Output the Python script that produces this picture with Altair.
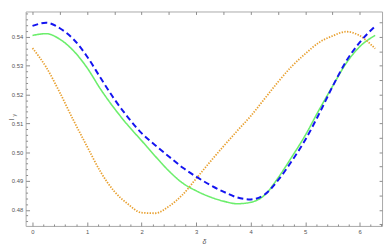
import altair as alt
import pandas as pd

# ---- data ----
delta = [0.0, 0.25, 0.5, 0.75, 1.0, 1.25, 1.5, 1.75, 2.0, 2.25, 2.5, 2.75, 3.0,
         3.25, 3.5, 3.75, 4.0, 4.25, 4.5, 4.75, 5.0, 5.25, 5.5, 5.75, 6.0, 6.283]
blue = [0.5438, 0.5449, 0.5430, 0.5392, 0.5332, 0.5257, 0.5184, 0.5121, 0.5066,
        0.5024, 0.4985, 0.4947, 0.4915, 0.4887, 0.4863, 0.4843, 0.4836, 0.4852,
        0.4902, 0.4968, 0.5042, 0.5131, 0.5227, 0.5315, 0.5381, 0.5437]
green = [0.5405, 0.5411, 0.5392, 0.5352, 0.5293, 0.5218, 0.5152, 0.5093, 0.5040,
         0.4986, 0.4935, 0.4893, 0.4866, 0.4845, 0.4830, 0.4821, 0.4826, 0.4850,
         0.4910, 0.4982, 0.5058, 0.5145, 0.5228, 0.5308, 0.5366, 0.5405]
orange = [0.5361, 0.5295, 0.5207, 0.5111, 0.5020, 0.4931, 0.4864, 0.4820, 0.4790,
          0.4788, 0.4812, 0.4852, 0.4908, 0.4965, 0.5020, 0.5073, 0.5125, 0.5184,
          0.5243, 0.5297, 0.5341, 0.5380, 0.5403, 0.5418, 0.5404, 0.5359]

x_major = [0, 1, 2, 3, 4, 5, 6]
x_minor = [0.2, 0.4, 0.6, 0.8, 1.2, 1.4, 1.6, 1.8, 2.2, 2.4, 2.6, 2.8, 3.2, 3.4,
           3.6, 3.8, 4.2, 4.4, 4.6, 4.8, 5.2, 5.4, 5.6, 5.8, 6.2, 6.4]
x_top = [0, 0.5, 1, 1.5, 2, 2.5, 3, 3.5, 4, 4.5, 5, 5.5, 6]
y_major = [0.48, 0.49, 0.50, 0.51, 0.52, 0.53, 0.54]
y_minor = [0.476, 0.478, 0.482, 0.484, 0.486, 0.488, 0.492, 0.494, 0.496, 0.498,
           0.502, 0.504, 0.506, 0.508, 0.512, 0.514, 0.516, 0.518, 0.522, 0.524,
           0.526, 0.528, 0.532, 0.534, 0.536, 0.538, 0.542, 0.544, 0.546, 0.548]
y_right = [0.475, 0.48, 0.485, 0.49, 0.495, 0.50, 0.505, 0.51, 0.515, 0.52,
           0.525, 0.53, 0.535, 0.54, 0.545]

df = pd.DataFrame({
    "delta": delta * 3,
    "value": blue + green + orange,
    "series": ["blue"] * len(delta) + ["green"] * len(delta) + ["orange"] * len(delta),
})

XS = alt.Scale(domain=[-0.126, 6.409], nice=False, zero=False)
YS = alt.Scale(domain=[0.4744, 0.5488], nice=False, zero=False)
FONT = "Liberation Sans"
TICK = "#8a8a8a"
LAB = "#555555"

base = alt.Chart(df)

def line(name, color, dash, width, xaxis, yaxis):
    return base.transform_filter(alt.datum.series == name).mark_line(
        interpolate="monotone", color=color, strokeDash=dash, strokeWidth=width
    ).encode(
        x=alt.X("delta:Q", scale=XS, axis=xaxis),
        y=alt.Y("value:Q", scale=YS, axis=yaxis),
    )

x_main = alt.Axis(values=x_major, orient="bottom", offset=-4, tickSize=4, domain=False,
                  grid=False, format="d", labelFont=FONT, labelFontSize=6, labelColor=LAB,
                  tickColor=TICK, labelPadding=3, title="δ", titleFont=FONT,
                  titleFontSize=7, titleFontStyle="italic", titleFontWeight="normal",
                  titleColor=LAB, titlePadding=3)
y_main = alt.Axis(values=y_major, orient="left", offset=-4, tickSize=4, domain=False,
                  grid=False, format=".2f", labelFont=FONT, labelFontSize=6,
                  labelColor=LAB, tickColor=TICK, labelPadding=3, title=None)

l_green = line("green", "#6cee6c", [1, 0], 1.6, x_main, y_main)
l_orange = line("orange", "#e8a030", [1.4, 1.4], 1.8, None, None)
l_blue = line("blue", "#1414f0", [6, 3.5], 2, None, None)

def ticks_layer(xv, xo, xs, yv, yo, ys):
    return base.mark_line(opacity=0).encode(
        x=alt.X("delta:Q", scale=XS, axis=alt.Axis(values=xv, orient=xo, offset=-xs,
                tickSize=xs, domain=False, grid=False, labels=False, title=None,
                tickColor=TICK)),
        y=alt.Y("value:Q", scale=YS, axis=alt.Axis(values=yv, orient=yo, offset=-ys,
                tickSize=ys, domain=False, grid=False, labels=False, title=None,
                tickColor=TICK)),
        detail="series:N",
    )

minor = ticks_layer(x_minor, "bottom", 2, y_minor, "left", 2)
opp = ticks_layer(x_top, "top", 3, y_right, "right", 3)

one = pd.DataFrame({"k": [0]})
title_i = alt.Chart(one).mark_text(text="I", angle=270, font=FONT, fontSize=7,
                                   color=LAB).encode(x=alt.value(-14), y=alt.value(110))
title_y = alt.Chart(one).mark_text(text="y", angle=270, font=FONT, fontSize=5,
                                   color=LAB).encode(x=alt.value(-12), y=alt.value(106))

chart = alt.layer(l_green, l_orange, l_blue, minor, opp, title_i, title_y).resolve_axis(
    x="independent", y="independent"
).properties(
    width=364, height=219,
    autosize=alt.AutoSizeParams(type="none"),
    padding={"left": 18, "top": 1, "right": 2, "bottom": 22},
).configure_view(stroke="#a8a8a8", strokeWidth=1)

chart.save("out.html", embed_options={"renderer": "svg", "actions": False})
